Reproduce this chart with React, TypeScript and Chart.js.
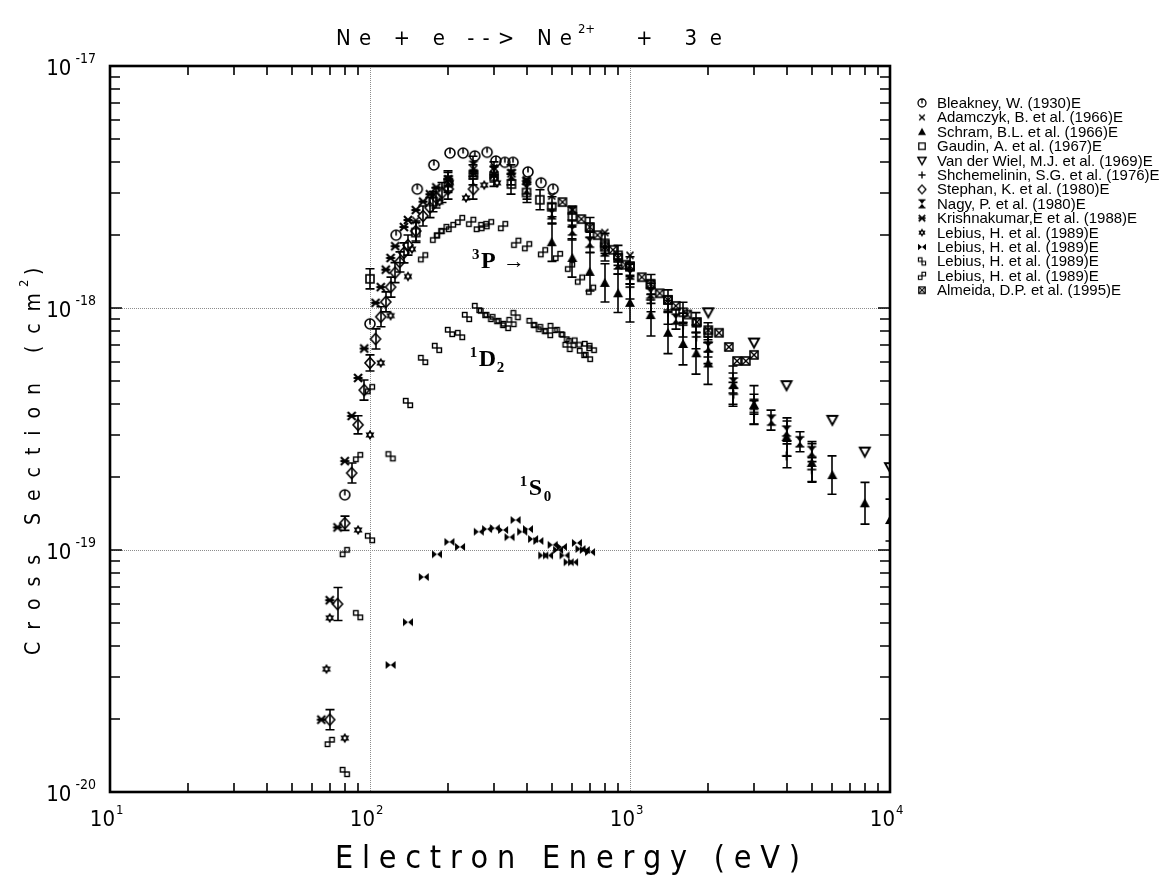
import React, { useEffect, useRef } from 'react';
import { Chart, registerables } from 'chart.js';

Chart.register(...registerables);

// ---------------- DATA (energy in eV, cross section in cm^2) ----------------
const bleakneyE = [80, 100, 126, 152, 176, 203, 228, 253, 282, 305, 330, 355, 405, 455, 506];
const bleakneyS = [1.69e-19, 8.6e-19, 2.0e-18, 3.1e-18, 3.9e-18, 4.37e-18, 4.37e-18, 4.25e-18, 4.4e-18, 4.05e-18, 4.0e-18, 4.0e-18, 3.65e-18, 3.29e-18, 3.1e-18];

const adamczykE = [150, 175, 200, 250, 300, 400, 500, 600, 800, 1000];
const adamczykS = [2.3e-18, 2.95e-18, 3.4e-18, 3.75e-18, 3.8e-18, 3.4e-18, 2.9e-18, 2.55e-18, 2.05e-18, 1.65e-18];

const schramE = [500, 600, 700, 800, 900, 1000, 1200, 1400, 1600, 1800, 2000, 2500, 3000, 4000, 5000, 6000, 8000, 10000];
const schramS = [1.87e-18, 1.61e-18, 1.41e-18, 1.27e-18, 1.15e-18, 1.05e-18, 9.35e-19, 7.9e-19, 7.1e-19, 6.5e-19, 5.9e-19, 4.8e-19, 3.98e-19, 2.93e-19, 2.29e-19, 2.04e-19, 1.56e-19, 1.33e-19];
const schramErr = [0.2, 0.2, 0.2, 0.2, 0.2, 0.2, 0.22, 0.22, 0.22, 0.22, 0.22, 0.2, 0.2, 0.2, 0.2, 0.2, 0.22, 0.22];

const gaudinE = [100, 150, 175, 200, 250, 300, 350, 400, 450, 500, 600, 700, 800, 900, 1000, 1200, 1400, 1600, 1800, 2000];
const gaudinS = [1.32e-18, 2.05e-18, 2.75e-18, 3.3e-18, 3.55e-18, 3.5e-18, 3.25e-18, 3.0e-18, 2.8e-18, 2.62e-18, 2.38e-18, 2.15e-18, 1.85e-18, 1.65e-18, 1.48e-18, 1.25e-18, 1.08e-18, 9.6e-19, 8.7e-19, 7.9e-19];
const gaudinErr = [0.1, 0.1, 0.1, 0.1, 0.1, 0.1, 0.1, 0.1, 0.1, 0.1, 0.1, 0.1, 0.1, 0.1, 0.1, 0.1, 0.1, 0.1, 0.1, 0.1];

const vanDerWielE = [2000, 3000, 4000, 6000, 8000, 10000];
const vanDerWielS = [9.6e-19, 7.2e-19, 4.8e-19, 3.45e-19, 2.55e-19, 2.2e-19];

const shchemelininE = [1000, 1200, 1400, 1600, 1800, 2000, 2500, 3000, 4000, 5000];
const shchemelininS = [1.22e-18, 1.08e-18, 9.6e-19, 8.5e-19, 7.6e-19, 6.6e-19, 4.4e-19, 3.7e-19, 2.45e-19, 2.15e-19];
const shchemelininErr = [0.12, 0.12, 0.12, 0.12, 0.12, 0.12, 0.12, 0.12, 0.12, 0.12];

const stephanE = [70, 75, 80, 85, 90, 95, 100, 105, 110, 115, 120, 125, 130, 135, 140, 150, 160, 170, 180, 190, 200, 250];
const stephanS = [1.99e-20, 5.98e-20, 1.29e-19, 2.08e-19, 3.29e-19, 4.58e-19, 5.93e-19, 7.45e-19, 9.2e-19, 1.06e-18, 1.22e-18, 1.4e-18, 1.55e-18, 1.69e-18, 1.82e-18, 2.08e-18, 2.4e-18, 2.6e-18, 2.85e-18, 3.0e-18, 3.1e-18, 3.1e-18];
const stephanErr = [0.1, 0.17, 0.07, 0.1, 0.09, 0.1, 0.08, 0.1, 0.1, 0.1, 0.1, 0.1, 0.1, 0.1, 0.1, 0.1, 0.1, 0.1, 0.1, 0.1, 0.1, 0.1];

const nagyE = [200, 250, 300, 350, 400, 500, 600, 700, 800, 900, 1000, 1200, 1500, 2000, 2500, 3000, 3500, 4000, 4500, 5000];
const nagyS = [3.35e-18, 3.85e-18, 3.65e-18, 3.55e-18, 3.1e-18, 2.45e-18, 2.1e-18, 1.87e-18, 1.72e-18, 1.52e-18, 1.38e-18, 1.15e-18, 9.0e-19, 6.9e-19, 4.9e-19, 4.0e-19, 3.44e-19, 3.1e-19, 2.8e-19, 2.55e-19];
const nagyErr = [0.1, 0.1, 0.1, 0.1, 0.1, 0.1, 0.1, 0.1, 0.1, 0.1, 0.1, 0.1, 0.1, 0.1, 0.1, 0.1, 0.1, 0.1, 0.1, 0.1];

const krishnakumarE = [65, 70, 75, 80, 85, 90, 95, 105, 110, 115, 120, 125, 135, 140, 150, 160, 170, 180, 200, 250, 300, 350, 400];
const krishnakumarS = [1.99e-20, 6.2e-20, 1.24e-19, 2.33e-19, 3.58e-19, 5.14e-19, 6.8e-19, 1.05e-18, 1.22e-18, 1.44e-18, 1.61e-18, 1.8e-18, 2.16e-18, 2.31e-18, 2.54e-18, 2.75e-18, 2.95e-18, 3.15e-18, 3.4e-18, 3.6e-18, 3.55e-18, 3.6e-18, 3.35e-18];

const lebiusTotalE = [68, 70, 80, 90, 100, 110, 120, 140, 145, 185, 203, 234, 275, 308];
const lebiusTotalS = [3.22e-20, 5.24e-20, 1.67e-20, 1.21e-19, 2.99e-19, 5.93e-19, 9.3e-19, 1.35e-18, 1.75e-18, 2.74e-18, 3.3e-18, 2.85e-18, 3.22e-18, 3.29e-18];

const lebius1S0E = [120, 140, 161, 181, 202, 222, 262, 282, 302, 325, 344, 363, 385, 405, 424, 444, 464, 484, 504, 529, 547, 560, 581, 604, 625, 645, 670, 702];
const lebius1S0S = [3.35e-20, 5.03e-20, 7.73e-20, 9.6e-20, 1.08e-19, 1.03e-19, 1.19e-19, 1.22e-19, 1.23e-19, 1.21e-19, 1.13e-19, 1.33e-19, 1.19e-19, 1.22e-19, 1.11e-19, 1.09e-19, 9.5e-20, 9.5e-20, 1.05e-19, 1.0e-19, 1.03e-19, 9.5e-20, 8.9e-20, 8.9e-20, 1.07e-19, 1.01e-19, 1.0e-19, 9.8e-20];

const lebius1D2E = [80, 90, 100, 120, 140, 160, 181, 203, 222, 236, 258, 272, 286, 302, 318, 333, 350, 363, 418, 437, 461, 484, 504, 535, 560, 575, 595, 625, 653, 683, 689, 713];
const lebius1D2S = [1.21e-20, 5.38e-20, 1.12e-19, 2.44e-19, 4.05e-19, 6.1e-19, 6.84e-19, 7.96e-19, 7.73e-19, 9.18e-19, 1.0e-18, 9.53e-19, 9.18e-19, 9.0e-19, 8.67e-19, 8.43e-19, 8.75e-19, 9.35e-19, 8.67e-19, 8.34e-19, 8.18e-19, 7.88e-19, 8.27e-19, 7.96e-19, 7.59e-19, 6.9e-19, 7.16e-19, 7.2e-19, 6.52e-19, 6.97e-19, 6.28e-19, 6.84e-19];

const lebius3PE = [70, 80, 90, 100, 160, 178, 184, 193, 205, 222, 245, 262, 274, 287, 325, 365, 402, 463, 528, 588, 642, 708];
const lebius3PS = [1.61e-20, 9.8e-20, 2.42e-19, 4.62e-19, 1.62e-18, 1.95e-18, 2.04e-18, 2.12e-18, 2.16e-18, 2.31e-18, 2.27e-18, 2.16e-18, 2.18e-18, 2.22e-18, 2.18e-18, 1.86e-18, 1.8e-18, 1.7e-18, 1.64e-18, 1.48e-18, 1.31e-18, 1.19e-18];

const almeidaE = [550, 600, 650, 700, 750, 800, 860, 900, 960, 1000, 1110, 1200, 1300, 1400, 1500, 1660, 1810, 2000, 2200, 2400, 2580, 2790, 3000];
const almeidaS = [2.74e-18, 2.54e-18, 2.33e-18, 2.16e-18, 2.0e-18, 1.79e-18, 1.74e-18, 1.61e-18, 1.51e-18, 1.49e-18, 1.34e-18, 1.26e-18, 1.15e-18, 1.08e-18, 1.02e-18, 9.4e-19, 8.75e-19, 8.1e-19, 7.9e-19, 6.9e-19, 6.04e-19, 6.04e-19, 6.4e-19];

const legendLabels = [
  'Bleakney, W. (1930)E',
  'Adamczyk, B. et al. (1966)E',
  'Schram, B.L. et al. (1966)E',
  'Gaudin, A. et al. (1967)E',
  'Van der Wiel, M.J. et al. (1969)E',
  'Shchemelinin, S.G. et al. (1976)E',
  'Stephan, K. et al. (1980)E',
  'Nagy, P. et al. (1980)E',
  'Krishnakumar,E et al. (1988)E',
  'Lebius, H. et al. (1989)E',
  'Lebius, H. et al. (1989)E',
  'Lebius, H. et al. (1989)E',
  'Lebius, H. et al. (1989)E',
  'Almeida, D.P. et al. (1995)E',
];

const xDecades = [1, 2, 3, 4];
const yDecades = [-17, -18, -19, -20];

// ---------------- STYLE ----------------
const FONT_PLOT = '"DejaVu Sans Condensed", "Liberation Sans Narrow", "DejaVu Sans", sans-serif';
const FONT_LEGEND = '"Liberation Sans", Arial, Helvetica, sans-serif';
const FONT_SERIF = '"Liberation Serif", "Times New Roman", serif';

type Kind =
  | 'circleTick' | 'cross' | 'triUp' | 'square' | 'triDown' | 'plus' | 'diamond'
  | 'hourglass' | 'asterisk' | 'star' | 'bowtie' | 'sqDown' | 'sqUp' | 'squareX';

function makeSymbol(kind: Kind, scale = 1): HTMLCanvasElement {
  const S = 16;
  const cv = document.createElement('canvas');
  cv.width = S;
  cv.height = S;
  const c = cv.getContext('2d')!;
  c.translate(S / 2, S / 2);
  c.scale(scale, scale);
  c.strokeStyle = '#000';
  c.fillStyle = '#000';
  c.lineWidth = 1.6;
  const poly = (pts: number[][], fill: boolean) => {
    c.beginPath();
    pts.forEach((p, i) => (i ? c.lineTo(p[0], p[1]) : c.moveTo(p[0], p[1])));
    c.closePath();
    if (fill) c.fill();
    else c.stroke();
  };
  const ln = (a: number, b: number, d: number, e: number) => {
    c.beginPath();
    c.moveTo(a, b);
    c.lineTo(d, e);
    c.stroke();
  };
  switch (kind) {
    case 'circleTick':
      c.beginPath();
      c.arc(0, 0, 5, 0, Math.PI * 2);
      c.stroke();
      ln(0, -5, 0, 0.5);
      break;
    case 'cross':
      c.lineWidth = 1.7;
      ln(-3.5, -3.5, 3.5, 3.5);
      ln(-3.5, 3.5, 3.5, -3.5);
      break;
    case 'triUp':
      poly([[0, -5], [5, 4], [-5, 4]], true);
      break;
    case 'square':
      c.strokeRect(-4, -4, 8, 8);
      break;
    case 'triDown':
      c.lineWidth = 1.9;
      poly([[-5, -4], [5, -4], [0, 5]], false);
      break;
    case 'plus':
      c.lineWidth = 1.7;
      ln(-4.5, 0, 4.5, 0);
      ln(0, -4.5, 0, 4.5);
      break;
    case 'diamond':
      poly([[0, -5.5], [5, 0], [0, 5.5], [-5, 0]], false);
      break;
    case 'hourglass':
      poly([[-4, -5], [4, -5], [0, 0]], true);
      poly([[-4, 5], [4, 5], [0, 0]], true);
      c.lineWidth = 1.4;
      ln(-4.5, -5, 4.5, -5);
      ln(-4.5, 5, 4.5, 5);
      break;
    case 'asterisk':
      c.lineWidth = 2.1;
      ln(-4, -4, 4, 4);
      ln(-4, 4, 4, -4);
      ln(-4.5, 0, 4.5, 0);
      break;
    case 'star': {
      const r = 5.2;
      const tri = (off: number) =>
        poly([0, 1, 2].map((k) => [r * Math.cos(off + (k * 2 * Math.PI) / 3), r * Math.sin(off + (k * 2 * Math.PI) / 3)]), true);
      tri(-Math.PI / 2);
      tri(Math.PI / 2);
      c.fillStyle = '#fff';
      c.beginPath();
      c.arc(0, 0, 1.4, 0, Math.PI * 2);
      c.fill();
      break;
    }
    case 'bowtie':
      poly([[-5, -4], [-5, 4], [0, 0]], true);
      poly([[5, -4], [5, 4], [0, 0]], true);
      break;
    case 'sqDown':
      c.lineWidth = 1.4;
      c.strokeRect(-4.5, -4.5, 4.5, 4.5);
      c.strokeRect(0, 0, 4.5, 4.5);
      break;
    case 'sqUp':
      c.lineWidth = 1.4;
      c.strokeRect(-4.5, 0, 4.5, 4.5);
      c.strokeRect(0, -4.5, 4.5, 4.5);
      break;
    case 'squareX':
      c.lineWidth = 1.6;
      c.strokeRect(-4, -4, 8, 8);
      c.lineWidth = 1.4;
      ln(-4, -4, 4, 4);
      ln(-4, 4, 4, -4);
      break;
  }
  return cv;
}

function drawFitted(ctx: CanvasRenderingContext2D, text: string, x0: number, x1: number, yb: number) {
  const chars = [...text];
  const ws = chars.map((ch) => ctx.measureText(ch).width);
  const total = ws.reduce((a, b) => a + b, 0);
  const gap = chars.length > 1 ? (x1 - x0 - total) / (chars.length - 1) : 0;
  let x = x0;
  chars.forEach((ch, i) => {
    ctx.fillText(ch, x, yb);
    x += ws[i] + gap;
  });
}

export default function App() {
  const ref = useRef<HTMLCanvasElement | null>(null);

  useEffect(() => {
    document.body.style.margin = '0';
    const canvas = ref.current;
    if (!canvas) return;

    const series: { E: number[]; S: number[]; kind: Kind; err?: number[] }[] = [
      { E: bleakneyE, S: bleakneyS, kind: 'circleTick' },
      { E: adamczykE, S: adamczykS, kind: 'cross' },
      { E: schramE, S: schramS, kind: 'triUp', err: schramErr },
      { E: gaudinE, S: gaudinS, kind: 'square', err: gaudinErr },
      { E: vanDerWielE, S: vanDerWielS, kind: 'triDown' },
      { E: shchemelininE, S: shchemelininS, kind: 'plus', err: shchemelininErr },
      { E: stephanE, S: stephanS, kind: 'diamond', err: stephanErr },
      { E: nagyE, S: nagyS, kind: 'hourglass', err: nagyErr },
      { E: krishnakumarE, S: krishnakumarS, kind: 'asterisk' },
      { E: lebiusTotalE, S: lebiusTotalS, kind: 'star' },
      { E: lebius1S0E, S: lebius1S0S, kind: 'bowtie' },
      { E: lebius1D2E, S: lebius1D2S, kind: 'sqDown' },
      { E: lebius3PE, S: lebius3PS, kind: 'sqUp' },
      { E: almeidaE, S: almeidaS, kind: 'squareX' },
    ];

    const datasets = series.map((s, i) => ({
      label: legendLabels[i],
      data: s.E.map((e, j) => ({ x: e, y: s.S[j] })),
      pointStyle: makeSymbol(s.kind),
      pointRadius: 5,
      showLine: false,
      errFrac: s.err,
      legendSymbol: makeSymbol(s.kind, 0.8),
    }));

    const decor = {
      id: 'decor',
      beforeDatasetsDraw(chart: any) {
        const { ctx, chartArea: a, scales } = chart;
        const x = scales.x;
        const y = scales.y;
        ctx.save();
        // dotted grid at decades
        ctx.strokeStyle = '#8c8c8c';
        ctx.lineWidth = 1;
        ctx.setLineDash([1, 1]);
        xDecades.forEach((d) => {
          const px = Math.round(x.getPixelForValue(Math.pow(10, d))) + 0.5;
          ctx.beginPath();
          ctx.moveTo(px, a.top);
          ctx.lineTo(px, a.bottom);
          ctx.stroke();
        });
        yDecades.forEach((d) => {
          const py = Math.round(y.getPixelForValue(Math.pow(10, d))) + 0.5;
          ctx.beginPath();
          ctx.moveTo(a.left, py);
          ctx.lineTo(a.right, py);
          ctx.stroke();
        });
        ctx.setLineDash([]);
        // error bars
        ctx.beginPath();
        ctx.rect(a.left, a.top, a.right - a.left, a.bottom - a.top);
        ctx.clip();
        ctx.strokeStyle = '#000';
        ctx.lineWidth = 1.6;
        chart.data.datasets.forEach((ds: any) => {
          const err: number[] | undefined = ds.errFrac;
          if (!err) return;
          ds.data.forEach((p: any, j: number) => {
            const f = err[j];
            if (!f) return;
            const px = Math.round(x.getPixelForValue(p.x));
            const yHi = y.getPixelForValue(p.y * (1 + f));
            const yLo = y.getPixelForValue(p.y / (1 + f));
            ctx.beginPath();
            ctx.moveTo(px, yHi);
            ctx.lineTo(px, yLo);
            ctx.moveTo(px - 4.5, yHi);
            ctx.lineTo(px + 4.5, yHi);
            ctx.moveTo(px - 4.5, yLo);
            ctx.lineTo(px + 4.5, yLo);
            ctx.stroke();
          });
        });
        ctx.restore();
      },
      afterDatasetsDraw(chart: any) {
        const { ctx, chartArea: a, scales } = chart;
        const x = scales.x;
        const y = scales.y;
        ctx.save();
        ctx.fillStyle = '#000';
        ctx.strokeStyle = '#000';
        // ticks (inside, all four sides)
        ctx.lineWidth = 1.6;
        for (let d = 1; d < 4; d++) {
          for (let m = 2; m <= 9; m++) {
            const px = Math.round(x.getPixelForValue(m * Math.pow(10, d)));
            ctx.beginPath();
            ctx.moveTo(px, a.bottom);
            ctx.lineTo(px, a.bottom - 9);
            ctx.moveTo(px, a.top);
            ctx.lineTo(px, a.top + 9);
            ctx.stroke();
          }
        }
        for (let d = -20; d < -17; d++) {
          for (let m = 2; m <= 9; m++) {
            const py = Math.round(y.getPixelForValue(m * Math.pow(10, d)));
            ctx.beginPath();
            ctx.moveTo(a.left, py);
            ctx.lineTo(a.left + 10, py);
            ctx.moveTo(a.right, py);
            ctx.lineTo(a.right - 10, py);
            ctx.stroke();
          }
        }
        yDecades.forEach((d) => {
          const py = Math.round(y.getPixelForValue(Math.pow(10, d)));
          ctx.beginPath();
          ctx.moveTo(a.left, py);
          ctx.lineTo(a.left + 12, py);
          ctx.moveTo(a.right, py);
          ctx.lineTo(a.right - 12, py);
          ctx.stroke();
        });
        // frame
        ctx.lineWidth = 2.6;
        ctx.strokeRect(a.left, a.top, a.right - a.left, a.bottom - a.top);

        // tick labels
        ctx.textBaseline = 'alphabetic';
        xDecades.forEach((d) => {
          const px = x.getPixelForValue(Math.pow(10, d));
          ctx.font = `22px ${FONT_PLOT}`;
          ctx.textAlign = 'right';
          ctx.fillText('10', px + 5, 826);
          ctx.font = `13px ${FONT_PLOT}`;
          ctx.textAlign = 'left';
          ctx.fillText(String(d), px + 6, 814);
        });
        yDecades.forEach((d) => {
          const py = y.getPixelForValue(Math.pow(10, d));
          ctx.font = `14px ${FONT_PLOT}`;
          ctx.textAlign = 'right';
          const ex = String(d);
          const w = ctx.measureText(ex).width;
          ctx.fillText(ex, 96, py - 3);
          ctx.font = `22px ${FONT_PLOT}`;
          ctx.fillText('10', 96 - w - 4, py + 9);
        });

        // partial-cross-section labels
        ctx.textAlign = 'left';
        const lbl = (E: number, S: number) => [x.getPixelForValue(E), y.getPixelForValue(S)];
        const [p3x, p3y] = lbl(247, 1.46e-18);
        ctx.font = `bold 15px ${FONT_SERIF}`;
        ctx.fillText('3', p3x, p3y - 9);
        ctx.font = `bold 24px ${FONT_SERIF}`;
        ctx.fillText('P', p3x + 9, p3y);
        ctx.font = `22px ${FONT_SERIF}`;
        ctx.fillText('\u2192', p3x + 31, p3y);
        const [d2x, d2y] = lbl(242, 5.76e-19);
        ctx.font = `bold 15px ${FONT_SERIF}`;
        ctx.fillText('1', d2x, d2y - 9);
        ctx.font = `bold 24px ${FONT_SERIF}`;
        ctx.fillText('D', d2x + 9, d2y);
        ctx.font = `bold 15px ${FONT_SERIF}`;
        ctx.fillText('2', d2x + 27, d2y + 6);
        const [s0x, s0y] = lbl(377, 1.69e-19);
        ctx.font = `bold 15px ${FONT_SERIF}`;
        ctx.fillText('1', s0x, s0y - 9);
        ctx.font = `bold 24px ${FONT_SERIF}`;
        ctx.fillText('S', s0x + 9, s0y);
        ctx.font = `bold 15px ${FONT_SERIF}`;
        ctx.fillText('0', s0x + 24, s0y + 6);

        // title
        ctx.font = `22px ${FONT_PLOT}`;
        drawFitted(ctx, 'Ne + e --> Ne', 336, 572, 45);
        ctx.font = `13px ${FONT_PLOT}`;
        drawFitted(ctx, '2+', 578, 595, 33);
        ctx.font = `22px ${FONT_PLOT}`;
        drawFitted(ctx, '+ 3e', 636, 722, 45);

        // x axis title
        ctx.font = `32px ${FONT_PLOT}`;
        drawFitted(ctx, 'Electron Energy (eV)', 335, 800, 868);

        // y axis title (rotated)
        ctx.save();
        ctx.translate(40, 655);
        ctx.rotate(-Math.PI / 2);
        ctx.font = `21px ${FONT_PLOT}`;
        drawFitted(ctx, 'Cross Section (cm', 0, 362, 0);
        ctx.font = `13px ${FONT_PLOT}`;
        ctx.fillText('2', 368, -12);
        ctx.font = `21px ${FONT_PLOT}`;
        ctx.fillText(')', 380, 0);
        ctx.restore();

        // legend
        ctx.font = `15px ${FONT_LEGEND}`;
        ctx.textAlign = 'left';
        chart.data.datasets.forEach((ds: any, i: number) => {
          const cy = 103 + i * 14.4;
          const img: HTMLCanvasElement = ds.legendSymbol;
          ctx.drawImage(img, 922 - img.width / 2, cy - img.height / 2);
          ctx.fillText(ds.label, 937, cy + 5);
        });
        ctx.restore();
      },
    };

    const chart = new Chart(canvas, {
      type: 'scatter',
      data: { datasets: datasets as any },
      options: {
        animation: false,
        responsive: false,
        devicePixelRatio: 1,
        events: [],
        layout: { padding: { top: 66, right: 285, left: 0, bottom: 0 } },
        plugins: {
          legend: { display: false },
          tooltip: { enabled: false },
          title: { display: false },
        },
        scales: {
          x: {
            type: 'logarithmic',
            min: 10,
            max: 10000,
            ticks: { display: false },
            grid: { display: false },
            border: { display: false },
            afterFit: (s: any) => {
              s.height = 90;
            },
          },
          y: {
            type: 'logarithmic',
            min: 1e-20,
            max: 1e-17,
            ticks: { display: false },
            grid: { display: false },
            border: { display: false },
            afterFit: (s: any) => {
              s.width = 110;
            },
          },
        },
      } as any,
      plugins: [decor],
    });

    return () => chart.destroy();
  }, []);

  return (
    <div style={{ width: 1175, height: 882, background: '#fff' }}>
      <canvas ref={ref} width={1175} height={882} style={{ display: 'block' }} />
    </div>
  );
}
